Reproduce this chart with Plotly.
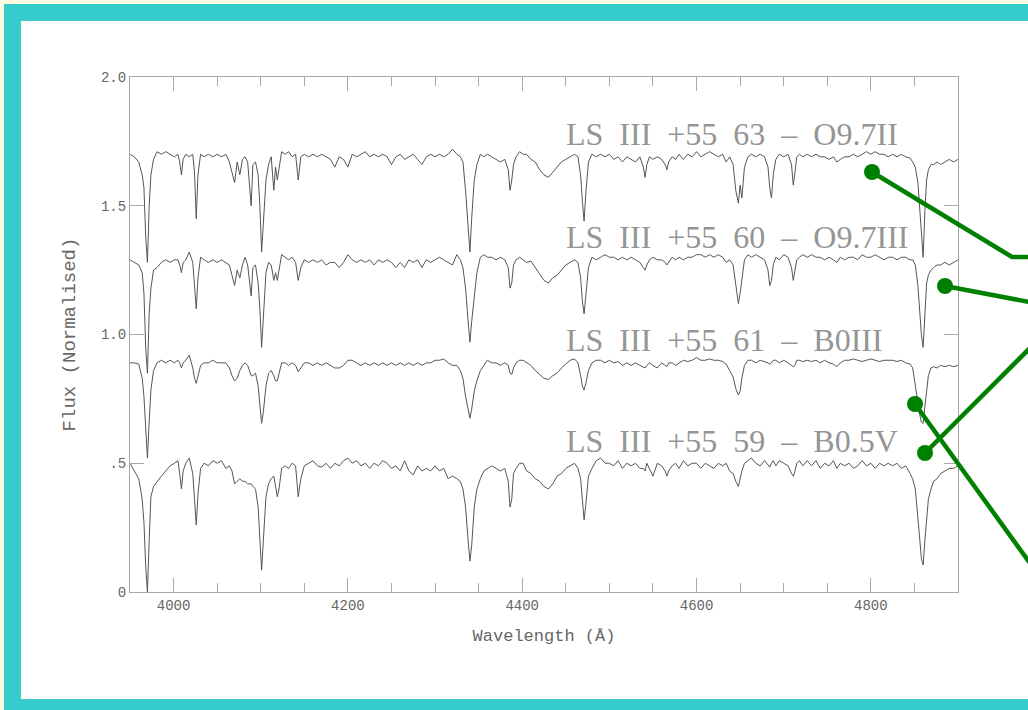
import plotly.graph_objects as go

# ---------------- data ----------------
wavelength = [
    3950, 3955, 3960, 3964, 3966, 3968, 3970, 3972, 3974, 3977,
    3981, 3986, 3991, 3996, 4001, 4005, 4007, 4009, 4011, 4014,
    4018, 4022, 4024, 4026, 4028, 4031, 4035, 4040, 4045, 4050,
    4055, 4060, 4064, 4067, 4070, 4073, 4076, 4079, 4082, 4085,
    4087, 4089, 4091, 4094, 4097, 4099, 4101, 4103, 4106, 4109,
    4112, 4115, 4117, 4119, 4121, 4124, 4128, 4132, 4136, 4140,
    4143, 4146, 4150, 4155, 4160, 4165, 4170, 4175, 4180, 4185,
    4190, 4195, 4200, 4205, 4210, 4215, 4220, 4225, 4230, 4235,
    4240, 4245, 4250, 4255, 4260, 4265, 4270, 4275, 4280, 4285,
    4290, 4295, 4300, 4305, 4310, 4315, 4320, 4325, 4329, 4332,
    4335, 4338, 4340, 4342, 4345, 4348, 4352, 4356, 4360, 4365,
    4370, 4375, 4380, 4384, 4386, 4388, 4390, 4393, 4397, 4401,
    4405, 4410, 4415, 4420, 4425, 4430, 4435, 4440, 4445, 4450,
    4455, 4460, 4464, 4467, 4469, 4471, 4473, 4476, 4480, 4485,
    4490, 4495, 4500, 4505, 4510, 4515, 4520, 4525, 4530, 4535,
    4539, 4541, 4543, 4546, 4550, 4555, 4560, 4564, 4566, 4568,
    4572, 4576, 4580, 4585, 4590, 4595, 4600, 4605, 4610, 4615,
    4620, 4625, 4630, 4634, 4638, 4642, 4645, 4648, 4650, 4652,
    4655, 4659, 4663, 4668, 4673, 4678, 4682, 4684, 4686, 4688,
    4691, 4695, 4700, 4705, 4709, 4711, 4713, 4715, 4718, 4722,
    4727, 4732, 4737, 4742, 4747, 4752, 4757, 4761, 4765, 4770,
    4775, 4780, 4785, 4790, 4795, 4800, 4805, 4810, 4815, 4820,
    4825, 4830, 4835, 4840, 4845, 4848, 4851, 4854, 4856, 4858,
    4860, 4862, 4864, 4866, 4869, 4872, 4876, 4880, 4885, 4890,
    4895, 4900,
]

flux_ls63 = [
    1.70, 1.69, 1.67, 1.62, 1.57, 1.38, 1.28, 1.50, 1.62, 1.68,
    1.71, 1.70, 1.71, 1.70, 1.69, 1.70, 1.67, 1.62, 1.68, 1.70,
    1.69, 1.70, 1.63, 1.45, 1.62, 1.70, 1.69, 1.70, 1.69, 1.70,
    1.69, 1.70, 1.67, 1.63, 1.59, 1.67, 1.62, 1.68, 1.69, 1.67,
    1.58, 1.50, 1.66, 1.67, 1.62, 1.50, 1.32, 1.45, 1.60, 1.66,
    1.69, 1.56, 1.65, 1.60, 1.64, 1.71, 1.70, 1.71, 1.69, 1.70,
    1.60, 1.69, 1.70, 1.69, 1.70, 1.69, 1.70, 1.69, 1.68, 1.65,
    1.69, 1.68, 1.65, 1.70, 1.69, 1.70, 1.71, 1.69, 1.70, 1.69,
    1.70, 1.69, 1.66, 1.69, 1.70, 1.68, 1.69, 1.70, 1.68, 1.66,
    1.69, 1.70, 1.69, 1.70, 1.69, 1.70, 1.72, 1.70, 1.69, 1.67,
    1.56, 1.42, 1.32, 1.45, 1.60, 1.66, 1.70, 1.69, 1.70, 1.69,
    1.68, 1.67, 1.68, 1.64, 1.56, 1.60, 1.66, 1.69, 1.71, 1.70,
    1.70, 1.68, 1.67, 1.64, 1.62, 1.61, 1.63, 1.65, 1.67, 1.68,
    1.69, 1.70, 1.69, 1.62, 1.52, 1.44, 1.55, 1.67, 1.70, 1.69,
    1.70, 1.69, 1.70, 1.68, 1.69, 1.67, 1.69, 1.68, 1.67, 1.69,
    1.65, 1.61, 1.66, 1.69, 1.68, 1.69, 1.68, 1.66, 1.64, 1.67,
    1.69, 1.68, 1.70, 1.68, 1.70, 1.69, 1.71, 1.69, 1.70, 1.71,
    1.70, 1.69, 1.70, 1.67, 1.69, 1.66, 1.56, 1.51, 1.58, 1.53,
    1.65, 1.69, 1.70, 1.69, 1.70, 1.69, 1.65, 1.57, 1.53, 1.62,
    1.68, 1.70, 1.69, 1.70, 1.66, 1.58, 1.63, 1.69, 1.70, 1.69,
    1.70, 1.69, 1.70, 1.69, 1.69, 1.68, 1.69, 1.67, 1.68, 1.69,
    1.69, 1.70, 1.69, 1.70, 1.71, 1.70, 1.71, 1.70, 1.70, 1.69,
    1.70, 1.69, 1.70, 1.69, 1.685, 1.67, 1.65, 1.59, 1.50, 1.38,
    1.30, 1.48, 1.60, 1.64, 1.66, 1.66, 1.67, 1.66, 1.67, 1.68,
    1.67, 1.68,
]

flux_ls60 = [
    1.29, 1.28, 1.27, 1.24, 1.16, 0.95, 0.85, 1.08, 1.18, 1.25,
    1.26, 1.28, 1.29, 1.28, 1.29, 1.29, 1.27, 1.24, 1.28, 1.29,
    1.32, 1.28, 1.20, 1.10, 1.22, 1.30, 1.29, 1.28, 1.29, 1.28,
    1.29, 1.28, 1.27, 1.23, 1.19, 1.25, 1.22, 1.27, 1.30, 1.27,
    1.20, 1.15, 1.26, 1.27, 1.20, 1.10, 0.95, 1.08, 1.24, 1.28,
    1.27, 1.21, 1.24, 1.21, 1.25, 1.31, 1.30, 1.29, 1.30, 1.28,
    1.21, 1.26, 1.29, 1.28, 1.29, 1.28, 1.29, 1.27, 1.28, 1.28,
    1.26, 1.28, 1.31, 1.29, 1.28, 1.29, 1.28, 1.29, 1.27, 1.29,
    1.28, 1.29, 1.28, 1.26, 1.28, 1.26, 1.29, 1.28, 1.29, 1.26,
    1.29, 1.28, 1.29, 1.30, 1.29, 1.28, 1.27, 1.31, 1.29, 1.26,
    1.18, 1.05, 0.97, 1.05, 1.16, 1.24, 1.30, 1.31, 1.30, 1.30,
    1.29, 1.30, 1.29, 1.26, 1.18, 1.20, 1.27, 1.29, 1.30, 1.29,
    1.28, 1.285, 1.26, 1.23, 1.21, 1.20, 1.22, 1.23, 1.25, 1.27,
    1.28, 1.29, 1.28, 1.22, 1.13, 1.08, 1.15, 1.26, 1.30, 1.29,
    1.30, 1.31, 1.30, 1.30, 1.29, 1.30, 1.29, 1.30, 1.29, 1.28,
    1.26, 1.25, 1.27, 1.29, 1.30, 1.29, 1.29, 1.28, 1.27, 1.28,
    1.30, 1.29, 1.30, 1.29, 1.30, 1.30, 1.31, 1.31, 1.30, 1.31,
    1.30, 1.31, 1.30, 1.28, 1.29, 1.27, 1.20, 1.12, 1.16, 1.22,
    1.29, 1.31, 1.30, 1.31, 1.30, 1.29, 1.25, 1.19, 1.21, 1.27,
    1.30, 1.29, 1.31, 1.30, 1.26, 1.21, 1.25, 1.29, 1.30, 1.31,
    1.30, 1.31, 1.30, 1.30, 1.29, 1.30, 1.29, 1.28, 1.30, 1.29,
    1.30, 1.30, 1.29, 1.31, 1.30, 1.30, 1.31, 1.30, 1.29, 1.30,
    1.30, 1.29, 1.30, 1.30, 1.29, 1.29, 1.27, 1.19, 1.09, 1.00,
    0.95, 1.10, 1.20, 1.23, 1.25, 1.26, 1.27, 1.27, 1.28, 1.27,
    1.28, 1.29,
]

flux_ls61 = [
    0.89, 0.89, 0.885, 0.83, 0.76, 0.63, 0.52, 0.66, 0.785, 0.86,
    0.89, 0.90, 0.89, 0.90, 0.89, 0.90, 0.89, 0.87, 0.89, 0.90,
    0.92, 0.87, 0.83, 0.81, 0.84, 0.88, 0.89, 0.89, 0.90, 0.89,
    0.89, 0.89, 0.87, 0.84, 0.82, 0.83, 0.86, 0.88, 0.89, 0.88,
    0.86, 0.84, 0.84, 0.85, 0.80, 0.72, 0.655, 0.70, 0.80, 0.85,
    0.86, 0.84, 0.82, 0.82, 0.85, 0.89, 0.89, 0.88, 0.89, 0.88,
    0.855, 0.87, 0.89, 0.89, 0.88, 0.89, 0.88, 0.89, 0.88, 0.87,
    0.87, 0.88, 0.90, 0.90, 0.89, 0.88, 0.89, 0.88, 0.89, 0.88,
    0.89, 0.88, 0.89, 0.88, 0.89, 0.88, 0.89, 0.88, 0.89, 0.88,
    0.89, 0.89, 0.90, 0.90, 0.905, 0.89, 0.88, 0.88, 0.86, 0.83,
    0.76, 0.70, 0.675, 0.71, 0.78, 0.82, 0.86, 0.88, 0.90, 0.89,
    0.89, 0.88, 0.89, 0.88, 0.85, 0.845, 0.87, 0.89, 0.90, 0.90,
    0.89, 0.88, 0.86, 0.845, 0.83, 0.825, 0.84, 0.85, 0.87, 0.885,
    0.90, 0.905, 0.89, 0.84, 0.80, 0.785, 0.81, 0.86, 0.89, 0.90,
    0.90, 0.89, 0.90, 0.89, 0.895, 0.88, 0.89, 0.88, 0.89, 0.88,
    0.875, 0.87, 0.88, 0.89, 0.88, 0.87, 0.89, 0.88, 0.875, 0.89,
    0.89, 0.88, 0.89, 0.90, 0.895, 0.90, 0.91, 0.90, 0.90, 0.905,
    0.90, 0.90, 0.895, 0.885, 0.86, 0.835, 0.79, 0.765, 0.78, 0.83,
    0.88, 0.90, 0.90, 0.89, 0.90, 0.895, 0.89, 0.885, 0.89, 0.90,
    0.90, 0.89, 0.90, 0.89, 0.88, 0.875, 0.88, 0.90, 0.90, 0.895,
    0.90, 0.895, 0.90, 0.89, 0.90, 0.89, 0.885, 0.875, 0.89, 0.90,
    0.90, 0.905, 0.90, 0.895, 0.90, 0.905, 0.90, 0.895, 0.90, 0.90,
    0.90, 0.895, 0.90, 0.89, 0.885, 0.87, 0.80, 0.74, 0.69, 0.66,
    0.655, 0.72, 0.785, 0.84, 0.87, 0.875, 0.87, 0.88, 0.875, 0.88,
    0.875, 0.88,
]

flux_ls59 = [
    0.50, 0.47, 0.44, 0.36, 0.27, 0.10, 0.00, 0.20, 0.37, 0.41,
    0.43, 0.45, 0.47, 0.49, 0.50, 0.51, 0.46, 0.40, 0.47, 0.50,
    0.52, 0.46, 0.36, 0.26, 0.38, 0.48, 0.50, 0.49, 0.51, 0.50,
    0.51, 0.48, 0.49, 0.47, 0.42, 0.43, 0.44, 0.43, 0.43, 0.42,
    0.42, 0.42, 0.41, 0.40, 0.33, 0.18, 0.085, 0.20, 0.37, 0.42,
    0.44, 0.45, 0.41, 0.37, 0.40, 0.48, 0.49, 0.48, 0.50, 0.49,
    0.37, 0.44, 0.49, 0.50, 0.51, 0.49, 0.485, 0.50, 0.48, 0.50,
    0.49, 0.51, 0.52, 0.50, 0.51, 0.49, 0.50, 0.48, 0.50, 0.49,
    0.51, 0.50, 0.48, 0.49, 0.47, 0.51, 0.47, 0.455, 0.49, 0.47,
    0.48, 0.47, 0.49, 0.47, 0.48, 0.44, 0.45, 0.44, 0.43, 0.40,
    0.33, 0.20, 0.12, 0.18, 0.33, 0.40, 0.44, 0.47, 0.48, 0.49,
    0.48, 0.47, 0.48, 0.43, 0.33, 0.36, 0.46, 0.48, 0.50, 0.50,
    0.47, 0.46, 0.44, 0.43, 0.41, 0.40, 0.42, 0.45, 0.46, 0.48,
    0.49, 0.50, 0.48, 0.44, 0.36, 0.28, 0.34, 0.45, 0.48, 0.51,
    0.52, 0.50, 0.50, 0.49, 0.51, 0.48, 0.50, 0.49, 0.50, 0.48,
    0.48, 0.47, 0.50, 0.48, 0.45, 0.50, 0.49, 0.47, 0.45, 0.47,
    0.49, 0.50, 0.48, 0.51, 0.49, 0.50, 0.50, 0.48, 0.50, 0.49,
    0.48, 0.50, 0.49, 0.50, 0.47, 0.46, 0.43, 0.41, 0.44, 0.47,
    0.50, 0.51, 0.52, 0.50, 0.49, 0.51, 0.49, 0.485, 0.50, 0.51,
    0.49, 0.51, 0.50, 0.49, 0.46, 0.45, 0.47, 0.50, 0.51, 0.49,
    0.51, 0.49, 0.51, 0.48, 0.50, 0.49, 0.51, 0.48, 0.50, 0.49,
    0.50, 0.48, 0.49, 0.51, 0.49, 0.50, 0.48, 0.50, 0.49, 0.50,
    0.49, 0.50, 0.48, 0.49, 0.46, 0.44, 0.40, 0.30, 0.21, 0.13,
    0.105, 0.20, 0.30, 0.36, 0.40, 0.43, 0.44, 0.46, 0.47, 0.48,
    0.48, 0.49,
]

series_fluxes = [flux_ls63, flux_ls60, flux_ls61, flux_ls59]
star_labels = [
    "LS\u2002III\u2002+55\u200263\u2002\u2013\u2002O9.7II",
    "LS\u2002III\u2002+55\u200260\u2002\u2013\u2002O9.7III",
    "LS\u2002III\u2002+55\u200261\u2002\u2013\u2002B0III",
    "LS\u2002III\u2002+55\u200259\u2002\u2013\u2002B0.5V",
]
x_tick_values = [4000, 4200, 4400, 4600, 4800]
x_tick_labels = ["4000", "4200", "4400", "4600", "4800"]
y_tick_values = [0, 0.5, 1.0, 1.5, 2.0]
y_tick_labels = ["0", ".5", "1.0", "1.5", "2.0"]

# ---------------- figure ----------------
W, H = 1028, 710


def px(x):
    return x / W


def py(y):
    return 1 - y / H


fig = go.Figure()
for flux in series_fluxes:
    fig.add_trace(go.Scatter(
        x=wavelength, y=flux, mode="lines",
        line=dict(color="#555555", width=1),
        showlegend=False, hoverinfo="skip",
    ))

label_y = [1.78, 1.38, 0.98, 0.585]
annotations = []
for text, yy in zip(star_labels, label_y):
    annotations.append(dict(
        x=4448, y=yy, xref="x", yref="y", text=text, showarrow=False,
        xanchor="left", yanchor="middle",
        font=dict(family="Liberation Serif", size=32, color="#959595"),
    ))

axis_font = dict(family="Liberation Mono", size=14, color="#666666")
xtitle_font = dict(family="Liberation Mono", size=17, color="#666666")
ytitle_font = dict(family="Liberation Mono", size=19, color="#666666")

shapes = [
    # teal frame and white card
    dict(type="rect", xref="paper", yref="paper", x0=px(4), x1=1.1, y0=-0.1, y1=py(4),
         fillcolor="#35cccb", line=dict(width=0), layer="below"),
    dict(type="rect", xref="paper", yref="paper", x0=px(21), x1=1.1, y0=py(699), y1=py(21),
         fillcolor="#ffffff", line=dict(width=0), layer="below"),
]
green = "#008000"
paths = [
    [(872, 172), (1012, 257), (1045, 257)],
    [(945, 286), (1045, 305)],
    [(925, 453), (1045, 333)],
    [(915, 404), (1045, 584)],
]
for pts in paths:
    d = "M " + " L ".join(f"{px(a):.5f},{py(b):.5f}" for a, b in pts)
    shapes.append(dict(type="path", xref="paper", yref="paper", path=d,
                       line=dict(color=green, width=4.5)))
for a, b in [p[0] for p in paths]:
    shapes.append(dict(type="circle", xref="paper", yref="paper",
                       x0=px(a - 8), x1=px(a + 8), y0=py(b + 8), y1=py(b - 8),
                       fillcolor=green, line=dict(color=green, width=0)))

fig.update_layout(
    width=W, height=H,
    margin=dict(l=0, r=0, t=0, b=0),
    paper_bgcolor="#fdfde2",
    plot_bgcolor="rgba(0,0,0,0)",
    shapes=shapes,
    annotations=annotations,
    xaxis=dict(
        domain=[px(130), px(958)], range=[3950, 4900],
        showline=True, linecolor="#a8a8a8", linewidth=1, mirror="ticks",
        ticks="inside", ticklen=14, tickcolor="#a8a8a8", tickwidth=1,
        tickvals=x_tick_values, ticktext=x_tick_labels, tickfont=axis_font,
        minor=dict(dtick=50, tick0=3950, ticks="inside", ticklen=9, tickcolor="#a8a8a8", showgrid=False),
        showgrid=False, zeroline=False, automargin=False,
        title=dict(text="Wavelength (\u00c5)", font=xtitle_font, standoff=16),
    ),
    yaxis=dict(
        domain=[py(592), py(77)], range=[0, 2.0],
        showline=True, linecolor="#a8a8a8", linewidth=1, mirror="ticks",
        ticks="inside", ticklen=14, tickcolor="#a8a8a8", tickwidth=1,
        tickvals=y_tick_values, ticktext=y_tick_labels, tickfont=axis_font,
        showgrid=False, zeroline=False, automargin=False,
        title=dict(text="Flux (Normalised)", font=ytitle_font, standoff=20),
    ),
)

fig.write_html("out.html")
